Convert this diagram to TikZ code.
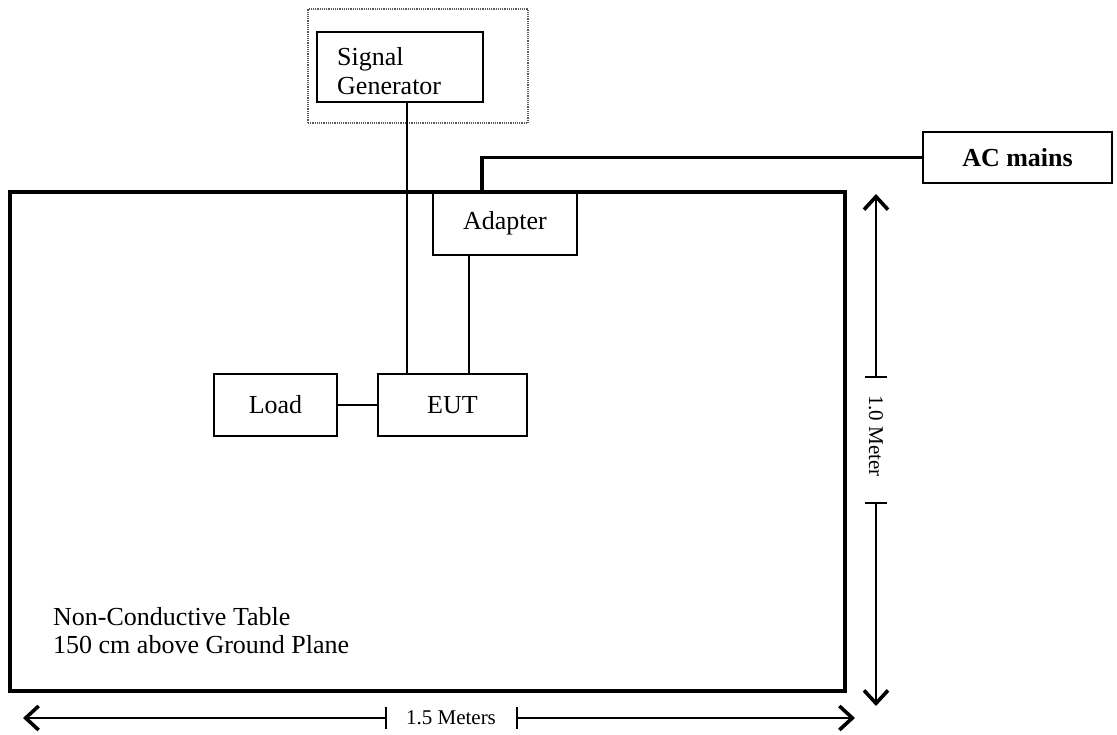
\documentclass[tikz,border=0pt]{standalone}
\usepackage{fontspec}
\setmainfont{Liberation Serif}
\usetikzlibrary{arrows.meta}
\begin{document}
\begin{tikzpicture}[x=1pt,y=-1pt,
  box/.style={draw, line width=1.8pt, inner sep=0pt, font=\fontsize{26}{29}\selectfont},
  label/.style={inner sep=0pt, anchor=north west, align=left, font=\fontsize{26}{29}\selectfont},
  wire/.style={line width=1.6pt},
  heavy/.style={line width=3.6pt},
  dimline/.style={line width=1.6pt},
  tipend/.style={-{Straight Barb[length=13pt,width=24pt,line width=3.6pt]}},
  dimlab/.style={inner sep=0pt, font=\fontsize{21}{24}\selectfont}]
\useasboundingbox (0,0) rectangle (1117,735);
% table
\node[draw, heavy, inner sep=0pt, minimum width=835pt, minimum height=499pt] (table) at (427.5,441.5) {};
\node[label, font=\fontsize{26}{28}\selectfont] (tablenote) at (53,607) {Non-Conductive Table\\150 cm above Ground Plane};
% signal generator
\node[draw, densely dotted, line width=1.2pt, gray!70!black, inner sep=0pt, minimum width=220pt, minimum height=114pt] (frame) at (418,66) {};
\node[box, minimum width=166pt, minimum height=70pt] (sg) at (400,67) {};
\node[label] (sgtext) at (337,47) {Signal\\Generator};
% boxes
\node[box, minimum width=144pt, minimum height=63pt] (adapter) at (505,223.5) {Adapter};
\node[box, line width=1.6pt, font=\bfseries\fontsize{26}{29}\selectfont, minimum width=189pt, minimum height=51pt] (ac) at (1017.5,157.5) {AC mains};
\node[box, minimum width=123pt, minimum height=62pt] (load) at (275.5,405) {Load};
\node[box, minimum width=149pt, minimum height=62pt] (eut) at (452.5,405) {EUT};
% wires
\coordinate (sigx) at (407,0);
\coordinate (adx) at (469,0);
\coordinate (acx) at (482,0);
\draw[wire] (sg.south -| sigx) -- (eut.north -| sigx);
\draw[wire] (adapter.south -| adx) -- (eut.north -| adx);
\draw[wire] (load.east) -- (eut.west);
\draw[heavy] (table.north -| acx) |- (ac.west);
% horizontal dimension
\node[dimlab] (hlab) at (451,718) {1.5 Meters};
\coordinate (hL) at (23,718);
\coordinate (hR) at (855,718);
\coordinate (hT1) at (386,718);
\coordinate (hT2) at (517,718);
\draw[dimline, tipend] (hT1) -- (hL);
\draw[dimline, tipend] (hT2) -- (hR);
\draw[dimline] ([yshift=-11pt]hT1) -- ([yshift=11pt]hT1);
\draw[dimline] ([yshift=-11pt]hT2) -- ([yshift=11pt]hT2);
% vertical dimension
\node[dimlab, rotate=-90] (vlab) at (876,436) {1.0 Meter};
\coordinate (vT) at (876,194);
\coordinate (vB) at (876,706);
\coordinate (vT1) at (876,377);
\coordinate (vT2) at (876,503);
\draw[dimline, tipend] (vT1) -- (vT);
\draw[dimline, tipend] (vT2) -- (vB);
\draw[dimline] ([xshift=-11pt]vT1) -- ([xshift=11pt]vT1);
\draw[dimline] ([xshift=-11pt]vT2) -- ([xshift=11pt]vT2);
\end{tikzpicture}
\end{document}
